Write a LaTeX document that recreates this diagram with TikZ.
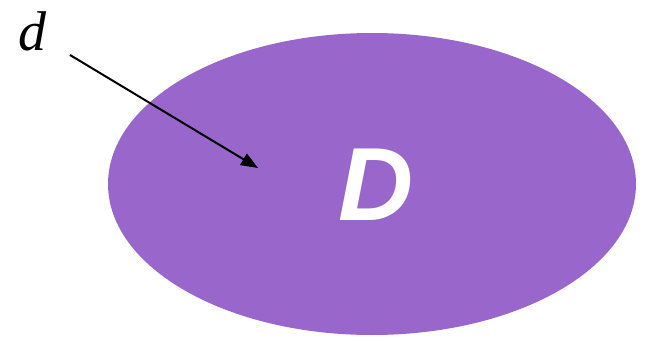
\documentclass[tikz,border=0pt]{standalone}
\usepackage{fontspec}
\setmainfont{Liberation Serif}
\setsansfont{Liberation Sans}
\usetikzlibrary{arrows.meta}
\definecolor{blobpurple}{HTML}{9966CC}
\tikzset{
  blob/.style={fill=blobpurple, draw=none},
  pointer/.style={line width=2pt, -{Triangle[length=17pt,width=13pt]}}
}
\begin{document}
\begin{tikzpicture}[x=1pt,y=-1pt]
\useasboundingbox (0,0) rectangle (646,337);
\fill[blob] (372,184) ellipse [x radius=264, y radius=151];
\node[text=white, font=\sffamily\bfseries\itshape\fontsize{104}{104}\selectfont, inner sep=0] (D) at (376,185) {D};
\node[font=\itshape\fontsize{56}{56}\selectfont, inner sep=0, anchor=base] (d) at (33,51) {d};
\coordinate (start) at (70,55);
\coordinate (tip) at (258,168);
\draw[pointer] (start) -- (tip);
\end{tikzpicture}
\end{document}
